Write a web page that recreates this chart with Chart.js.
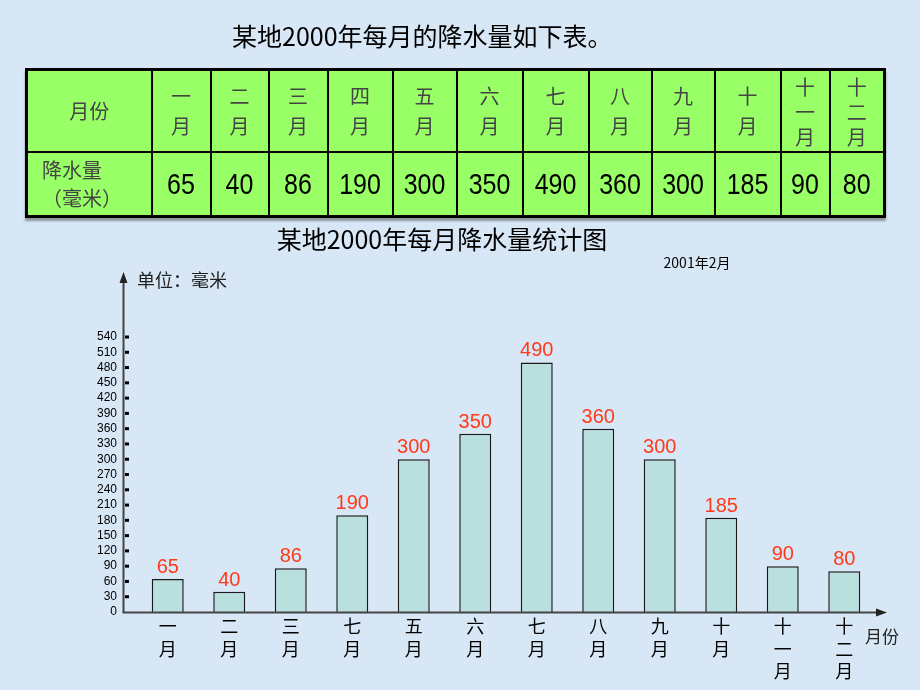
<!DOCTYPE html>
<html>
<head>
<meta charset="utf-8">
<title>某地2000年每月降水量统计图</title>
<script src="https://cdn.jsdelivr.net/npm/chart.js@4.4.0/dist/chart.umd.min.js"></script>
<style>
    body {
        margin: 0;
        width: 920px;
        height: 690px;
        position: relative;
        overflow: hidden;
        background: #d8e7f5;
        font-family: "Noto Sans CJK SC", sans-serif;
    }
    #chartCanvas {
        position: absolute;
        left: 0;
        top: 0;
    }
    #tableTitle {
        position: absolute;
        left: 232px;
        top: 19px;
        font-size: 25px;
        line-height: 32px;
        color: #000;
        white-space: nowrap;
    }
    #rainTable {
        position: absolute;
        left: 25px;
        top: 68px;
        width: 858px;
        height: 150px;
        border-collapse: collapse;
        background: #99ff66;
        border: 3px solid #000;
        box-shadow: 0 3px 2px rgba(0, 0, 0, 0.35);
        table-layout: fixed;
    }
    #rainTable td {
        border: 2px solid #000;
        text-align: center;
        padding: 0;
    }
    #rainTable .head td {
        height: 80px;
        font-size: 20px;
        line-height: 30px;
        color: #444;
    }
    #rainTable .head td.three {
        line-height: 25px;
    }
    #rainTable .vals td {
        font-family: "Liberation Sans", Arial, sans-serif;
        font-size: 25px;
        color: #000;
    }
    #rainTable .vals td span {
        display: inline-block;
        transform: scaleY(1.15);
    }
    #rainTable .vals td.rowName {
        font-family: "Noto Sans CJK SC", sans-serif;
        font-size: 20px;
        line-height: 28px;
        color: #444;
        text-align: left;
        padding-left: 14px;
    }
</style>
</head>
<body>
<canvas id="chartCanvas" width="920" height="690"></canvas>
<div id="tableTitle">某地2000年每月的降水量如下表。</div>
<table id="rainTable">
    <colgroup id="cols"></colgroup>
    <tr class="head" id="headRow"><td>月份</td></tr>
    <tr class="vals" id="valRow"><td class="rowName">降水量<br>（毫米）</td></tr>
</table>

<script>
// 表格里的月份
const tableMonths = ['一月', '二月', '三月', '四月', '五月', '六月', '七月', '八月', '九月', '十月', '十一月', '十二月'];
// 图中横轴的月份（原图第四个写成了“七月”）
const axisMonths = ['一月', '二月', '三月', '七月', '五月', '六月', '七月', '八月', '九月', '十月', '十一月', '十二月'];
// 降水量（毫米）
const rainfall = [65, 40, 86, 190, 300, 350, 490, 360, 300, 185, 90, 80];
// 纵轴刻度
const yMax = 540;
const yStep = 30;

const colWidths = [125, 59, 58, 59, 65, 64, 66, 66, 63, 63, 66, 49, 55];

// build the table from the arrays
const cols = document.getElementById('cols');
colWidths.forEach(w => {
    const c = document.createElement('col');
    c.style.width = w + 'px';
    cols.appendChild(c);
});
const headRow = document.getElementById('headRow');
const valRow = document.getElementById('valRow');
tableMonths.forEach((m, i) => {
    const th = document.createElement('td');
    th.innerHTML = m.split('').join('<br>');
    if (m.length > 2) th.className = 'three';
    headRow.appendChild(th);
    const td = document.createElement('td');
    const sp = document.createElement('span');
    sp.textContent = rainfall[i];
    td.appendChild(sp);
    valRow.appendChild(td);
});

// axes with arrows, small tick dots, value labels and captions
const decorations = {
    id: 'decorations',
    afterDraw(chart) {
        const ctx = chart.ctx;
        const area = chart.chartArea;
        const yScale = chart.scales.y;
        const axisX = 123.5;
        const axisY = Math.round(area.bottom) + 0.5;

        ctx.save();
        ctx.strokeStyle = '#444';
        ctx.fillStyle = '#222';
        ctx.lineWidth = 2;

        // y axis
        ctx.beginPath();
        ctx.moveTo(axisX, axisY);
        ctx.lineTo(axisX, 280);
        ctx.stroke();
        ctx.beginPath();
        ctx.moveTo(axisX, 272);
        ctx.lineTo(axisX - 4, 283);
        ctx.lineTo(axisX + 4, 283);
        ctx.closePath();
        ctx.fill();

        // x axis
        ctx.beginPath();
        ctx.moveTo(axisX - 1, axisY);
        ctx.lineTo(878, axisY);
        ctx.stroke();
        ctx.beginPath();
        ctx.moveTo(887, axisY);
        ctx.lineTo(876, axisY - 4);
        ctx.lineTo(876, axisY + 4);
        ctx.closePath();
        ctx.fill();

        // tick dots
        ctx.fillStyle = '#000';
        yScale.ticks.forEach(t => {
            if (t.value === 0) return;
            const y = yScale.getPixelForValue(t.value);
            ctx.fillRect(125, y - 1.5, 4, 3);
        });

        // value labels
        const meta = chart.getDatasetMeta(0);
        ctx.fillStyle = '#ff3a1a';
        ctx.font = '20px "Liberation Sans", Arial, sans-serif';
        ctx.textAlign = 'center';
        ctx.textBaseline = 'alphabetic';
        meta.data.forEach((bar, i) => {
            ctx.fillText(String(rainfall[i]), bar.x, bar.y - 6);
        });

        // captions
        ctx.fillStyle = '#000';
        ctx.textBaseline = 'middle';
        ctx.font = '25px "Noto Sans CJK SC", sans-serif';
        ctx.fillText('某地2000年每月降水量统计图', 442, 239);
        ctx.font = '14px "Noto Sans CJK SC", sans-serif';
        ctx.fillText('2001年2月', 697, 263);

        ctx.textAlign = 'left';
        ctx.fillStyle = '#222';
        ctx.font = '18px "Noto Sans CJK SC", sans-serif';
        ctx.fillText('单位：毫米', 137, 280);
        ctx.font = '17px "Noto Sans CJK SC", sans-serif';
        ctx.fillText('月份', 865, 637);
        ctx.restore();
    }
};

const ctx = document.getElementById('chartCanvas');
new Chart(ctx, {
    type: 'bar',
    data: {
        labels: axisMonths.map(m => m.split('')),
        datasets: [{
            data: rainfall,
            backgroundColor: '#b9dfdf',
            borderColor: '#1a1a1a',
            borderWidth: 1.5,
            barPercentage: 0.52,
            categoryPercentage: 1
        }]
    },
    options: {
        responsive: false,
        animation: false,
        layout: {
            padding: { top: 337, right: 45, left: 0, bottom: 0 }
        },
        plugins: {
            legend: { display: false },
            tooltip: { enabled: false }
        },
        scales: {
            x: {
                grid: { display: false, drawTicks: false },
                border: { display: false },
                ticks: {
                    color: '#000',
                    font: { family: '"Noto Sans CJK SC", sans-serif', size: 18, lineHeight: 1.25 },
                    padding: 3,
                    maxRotation: 0,
                    autoSkip: false
                },
                afterFit(scale) {
                    scale.height = 78;
                }
            },
            y: {
                min: 0,
                max: yMax,
                grid: { display: false, drawTicks: false },
                border: { display: false },
                ticks: {
                    stepSize: yStep,
                    autoSkip: false,
                    color: '#000',
                    font: { family: '"Liberation Sans", Arial, sans-serif', size: 12 },
                    padding: 20
                },
                afterFit(scale) {
                    scale.width = 137;
                }
            }
        }
    },
    plugins: [decorations]
});
</script>
</body>
</html>
